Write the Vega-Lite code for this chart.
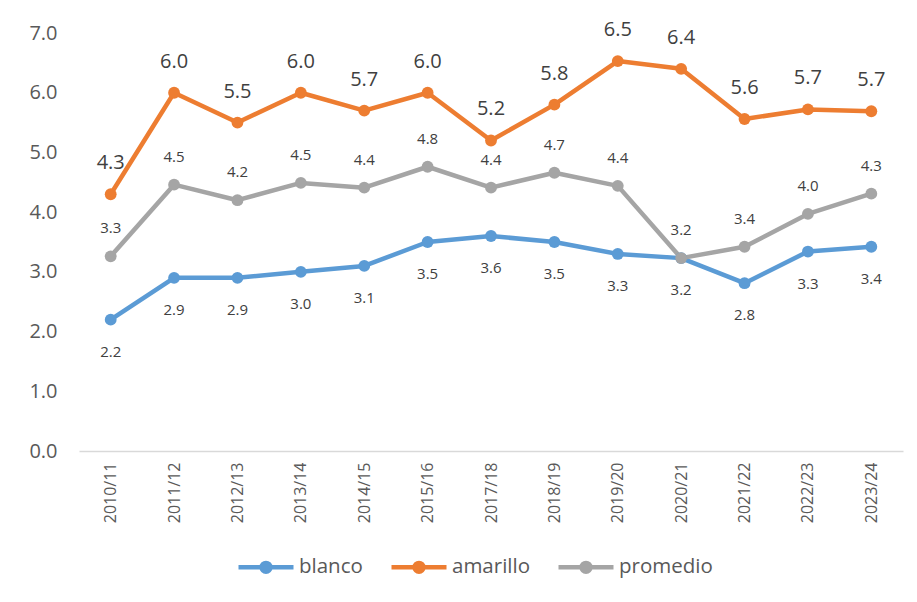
{
  "$schema": "https://vega.github.io/schema/vega-lite/v6.json",
  "width": 824,
  "height": 418,
  "autosize": "none",
  "padding": {"left": 79, "top": 33, "right": 14, "bottom": 151},
  "background": "white",
  "config": {
    "view": {"stroke": null},
    "font": "Open Sans"
  },
  "data": {
    "values": [
      {"season": "2010/11", "serie": "blanco", "value": 2.2},
      {"season": "2011/12", "serie": "blanco", "value": 2.9},
      {"season": "2012/13", "serie": "blanco", "value": 2.9},
      {"season": "2013/14", "serie": "blanco", "value": 3.0},
      {"season": "2014/15", "serie": "blanco", "value": 3.1},
      {"season": "2015/16", "serie": "blanco", "value": 3.5},
      {"season": "2017/18", "serie": "blanco", "value": 3.6},
      {"season": "2018/19", "serie": "blanco", "value": 3.5},
      {"season": "2019/20", "serie": "blanco", "value": 3.3},
      {"season": "2020/21", "serie": "blanco", "value": 3.23},
      {"season": "2021/22", "serie": "blanco", "value": 2.81},
      {"season": "2022/23", "serie": "blanco", "value": 3.34},
      {"season": "2023/24", "serie": "blanco", "value": 3.42},
      {"season": "2010/11", "serie": "amarillo", "value": 4.3},
      {"season": "2011/12", "serie": "amarillo", "value": 6.0},
      {"season": "2012/13", "serie": "amarillo", "value": 5.5},
      {"season": "2013/14", "serie": "amarillo", "value": 6.0},
      {"season": "2014/15", "serie": "amarillo", "value": 5.7},
      {"season": "2015/16", "serie": "amarillo", "value": 6.0},
      {"season": "2017/18", "serie": "amarillo", "value": 5.2},
      {"season": "2018/19", "serie": "amarillo", "value": 5.8},
      {"season": "2019/20", "serie": "amarillo", "value": 6.53},
      {"season": "2020/21", "serie": "amarillo", "value": 6.4},
      {"season": "2021/22", "serie": "amarillo", "value": 5.56},
      {"season": "2022/23", "serie": "amarillo", "value": 5.72},
      {"season": "2023/24", "serie": "amarillo", "value": 5.69},
      {"season": "2010/11", "serie": "promedio", "value": 3.26},
      {"season": "2011/12", "serie": "promedio", "value": 4.46},
      {"season": "2012/13", "serie": "promedio", "value": 4.2},
      {"season": "2013/14", "serie": "promedio", "value": 4.49},
      {"season": "2014/15", "serie": "promedio", "value": 4.41},
      {"season": "2015/16", "serie": "promedio", "value": 4.76},
      {"season": "2017/18", "serie": "promedio", "value": 4.41},
      {"season": "2018/19", "serie": "promedio", "value": 4.66},
      {"season": "2019/20", "serie": "promedio", "value": 4.44},
      {"season": "2020/21", "serie": "promedio", "value": 3.23},
      {"season": "2021/22", "serie": "promedio", "value": 3.42},
      {"season": "2022/23", "serie": "promedio", "value": 3.97},
      {"season": "2023/24", "serie": "promedio", "value": 4.31}
    ]
  },
  "encoding": {
    "x": {
      "field": "season",
      "type": "ordinal",
      "sort": null,
      "scale": {"type": "point", "padding": 0.5},
      "axis": {
        "title": null,
        "labelAngle": -90,
        "labelFont": "Open Sans",
        "labelFontSize": 16,
        "labelColor": "#595959",
        "labelPadding": 11,
        "ticks": false,
        "domainColor": "#D9D9D9",
        "domainWidth": 1.5,
        "grid": false
      }
    },
    "y": {
      "field": "value",
      "type": "quantitative",
      "scale": {"domain": [0, 7], "nice": false},
      "axis": {
        "title": null,
        "values": [0, 1, 2, 3, 4, 5, 6, 7],
        "format": ".1f",
        "labelFont": "Open Sans",
        "labelFontSize": 20,
        "labelColor": "#595959",
        "labelPadding": 22,
        "ticks": false,
        "domain": false,
        "grid": false
      }
    }
  },
  "layer": [
    {
      "mark": {
        "type": "line",
        "strokeWidth": 4.5,
        "strokeJoin": "round",
        "strokeCap": "round",
        "point": {"filled": true, "size": 140, "opacity": 1}
      },
      "encoding": {
        "color": {
          "field": "serie",
          "type": "nominal",
          "scale": {
            "domain": ["blanco", "amarillo", "promedio"],
            "range": ["#5B9BD5", "#ED7D31", "#A5A5A5"]
          },
          "legend": {
            "title": null,
            "orient": "none",
            "direction": "horizontal",
            "legendX": 157,
            "legendY": 504,
            "padding": 0,
            "labelFont": "Open Sans",
            "labelFontSize": 20.5,
            "labelColor": "#595959",
            "labelOffset": 3,
            "columnPadding": 19,
            "symbolType": "M-1,0L1,0M0.16,0A0.16,0.16,0,1,1,-0.16,0A0.16,0.16,0,1,1,0.16,0Z",
            "symbolSize": 3025,
            "symbolStrokeWidth": 4.5,
            "encode": {
              "symbols": {
                "update": {
                  "fill": {"scale": "color", "field": "value"},
                  "stroke": {"scale": "color", "field": "value"},
                  "opacity": {"value": 1}
                }
              }
            }
          }
        }
      }
    },
    {
      "transform": [{"filter": "datum.serie == 'amarillo'"}],
      "mark": {"type": "text", "fontSize": 20, "font": "Open Sans", "color": "#404040", "baseline": "alphabetic", "dy": -25},
      "encoding": {"text": {"field": "value", "type": "quantitative", "format": ".1f"}}
    },
    {
      "transform": [{"filter": "datum.serie == 'promedio'"}],
      "mark": {"type": "text", "fontSize": 15, "font": "Open Sans", "color": "#404040", "baseline": "alphabetic", "dy": -23},
      "encoding": {"text": {"field": "value", "type": "quantitative", "format": ".1f"}}
    },
    {
      "transform": [{"filter": "datum.serie == 'blanco'"}],
      "mark": {"type": "text", "fontSize": 15, "font": "Open Sans", "color": "#404040", "baseline": "alphabetic", "dy": 37},
      "encoding": {"text": {"field": "value", "type": "quantitative", "format": ".1f"}}
    }
  ]
}
